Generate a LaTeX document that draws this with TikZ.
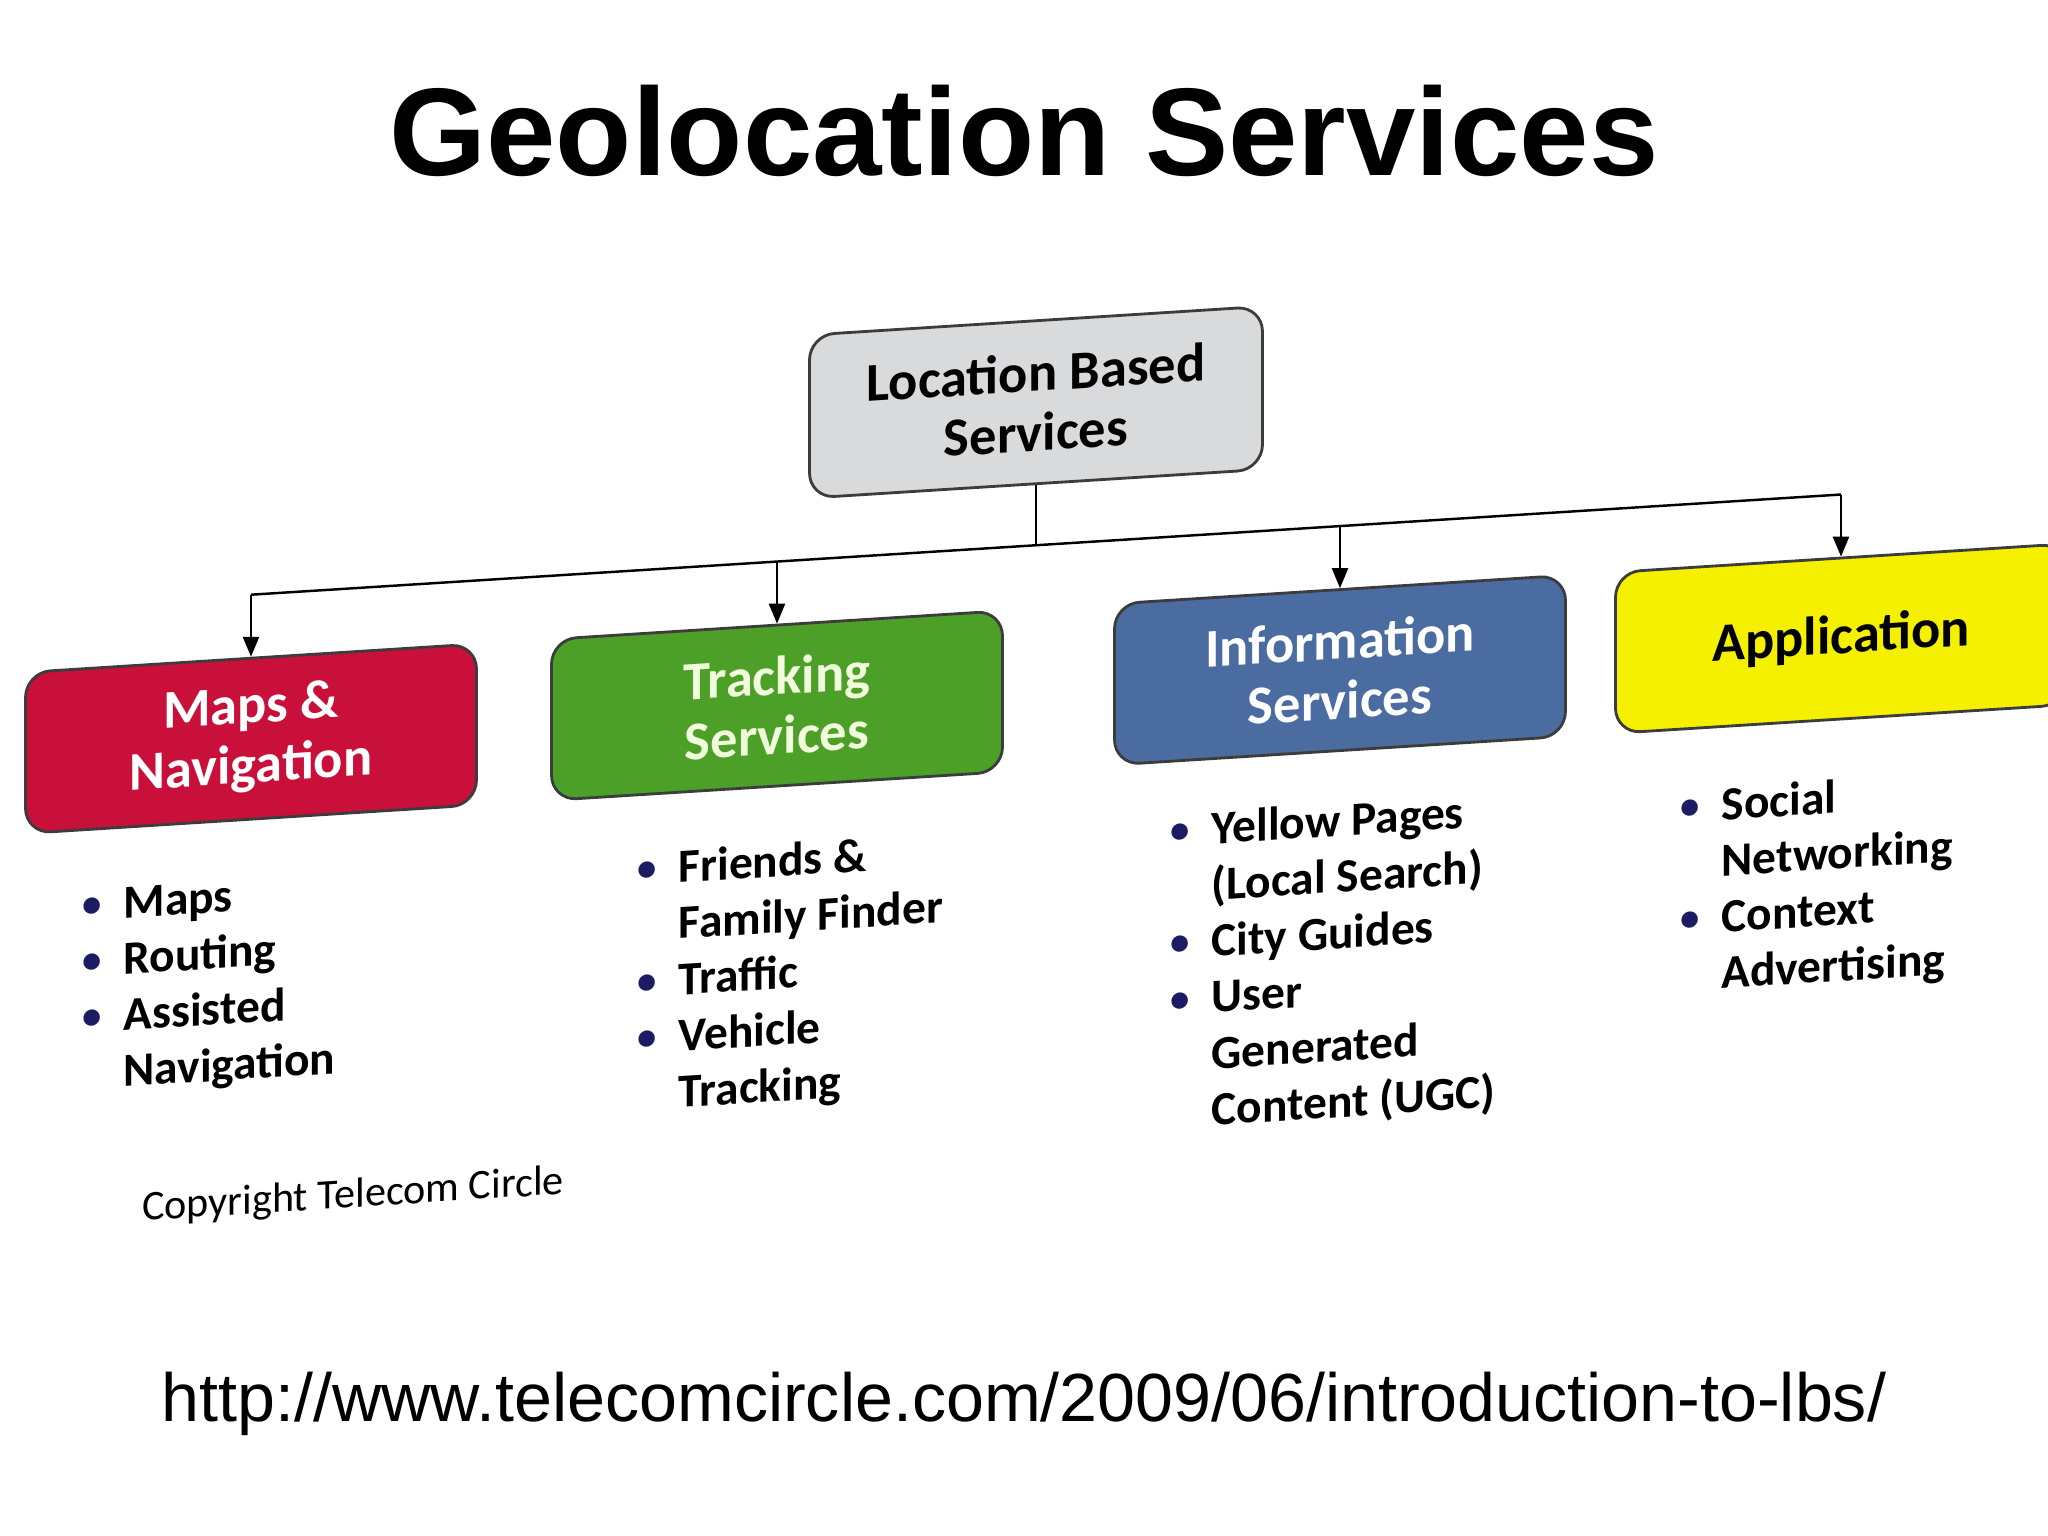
\documentclass[tikz,border=0pt]{standalone}
\usepackage{fontspec}
\usetikzlibrary{arrows.meta,positioning}
\newfontfamily\titlefont{Liberation Sans}
\newfontfamily\diafont{Carlito}
\definecolor{rootgray}{RGB}{217,218,220}
\definecolor{mapsred}{RGB}{200,16,58}
\definecolor{trackgreen}{RGB}{76,160,40}
\definecolor{infoblue}{RGB}{74,108,160}
\definecolor{appyellow}{RGB}{245,240,0}
\definecolor{boxline}{RGB}{60,60,60}
\definecolor{bulletblue}{RGB}{28,28,100}
\definecolor{palegreen}{RGB}{240,252,220}
\newcommand{\bul}{\makebox[0.41cm][l]{\textcolor{bulletblue}{\raisebox{0.15ex}{\fontsize{11}{11}\selectfont\textbullet}}}}
\newcommand{\ind}{\hspace*{0.41cm}}

\begin{document}
\begin{tikzpicture} [{svc/.style={rectangle,rounded corners=0.25cm,draw=boxline,line width=0.8pt,minimum width=4.51cm,minimum height=1.61cm,align=center,font=\diafont\bfseries\fontsize{15.5}{17}\selectfont}},{lst/.style={anchor=north west,inner sep=0pt,align=left,font=\diafont\bfseries\fontsize{13.5}{16}\selectfont}},{conn/.style={black,line width=0.7pt}}]
	%%page frame
	\useasboundingbox (0,0) rectangle (20.48,-15.36);
	%%title and source
	\node [anchor=base,font=\titlefont\bfseries\fontsize{35.5}{40}\selectfont] (title) at (10.24,-1.76) {Geolocation Services};
	\node [anchor=base,font=\titlefont\fontsize{19.4}{22}\selectfont] (url) at (10.24,-14.21) {http://www.telecomcircle.com/2009/06/introduction-to-lbs/};
	%%the chart, seen slanted
	\begin{scope}[shift={(10.24,0)},yslant=0.063,transform shape]
	%%boxes
	\node [svc,fill=rootgray,minimum width=4.53cm,minimum height=1.63cm] (lbs) at (0.12,-4.03) {Location Based\\Services};
	\node [svc,fill=mapsred,text=white] (maps) at (-7.73,-6.90) {Maps \&\\Navigation};
	\node [svc,fill=trackgreen,text=palegreen] (track) at (-2.47,-6.90) {Tracking\\Services};
	\node [svc,fill=infoblue,text=white] (info) at (3.16,-6.90) {Information\\Services};
	\node [svc,fill=appyellow] (app) at (8.17,-6.90) {Application};
	%%connectors
	\coordinate (hub) at (0.12,-5.46);
	\coordinate (b1) at (-7.73,-5.46);
	\coordinate (b2) at (-2.47,-5.46);
	\coordinate (b3) at (3.16,-5.46);
	\coordinate (b4) at (8.17,-5.46);
	\draw [conn] (lbs.south) -- (hub);
	\draw [conn] (b1) -- (b4);
	\foreach \b/\n in {b1/maps,b2/track,b3/info,b4/app}
		\draw [conn,-{Triangle[length=2mm,width=1.6mm]}] (\b) -- (\n.north);
	%%lists
	\node [lst] (mapsl) at (-9.42,-8.30) {\bul Maps\\\bul Routing\\\bul Assisted\\\ind Navigation};
	\node [lst] (trackl) at (-3.87,-8.27) {\bul Friends \&\\\ind Family Finder\\\bul Traffic\\\bul Vehicle\\\ind Tracking};
	\node [lst] (infol) at (1.46,-8.22) {\bul Yellow Pages\\\ind (Local Search)\\\bul City Guides\\\bul User\\\ind Generated\\\ind Content (UGC)};
	\node [lst] (appl) at (6.56,-8.30) {\bul Social\\\ind Networking\\\bul Context\\\ind Advertising};
	%%copyright
	\node [font=\diafont\fontsize{12}{14}\selectfont] (copy) at (-6.71,-11.54) {Copyright Telecom Circle};
	\end{scope}
\end{tikzpicture}
\end{document}
